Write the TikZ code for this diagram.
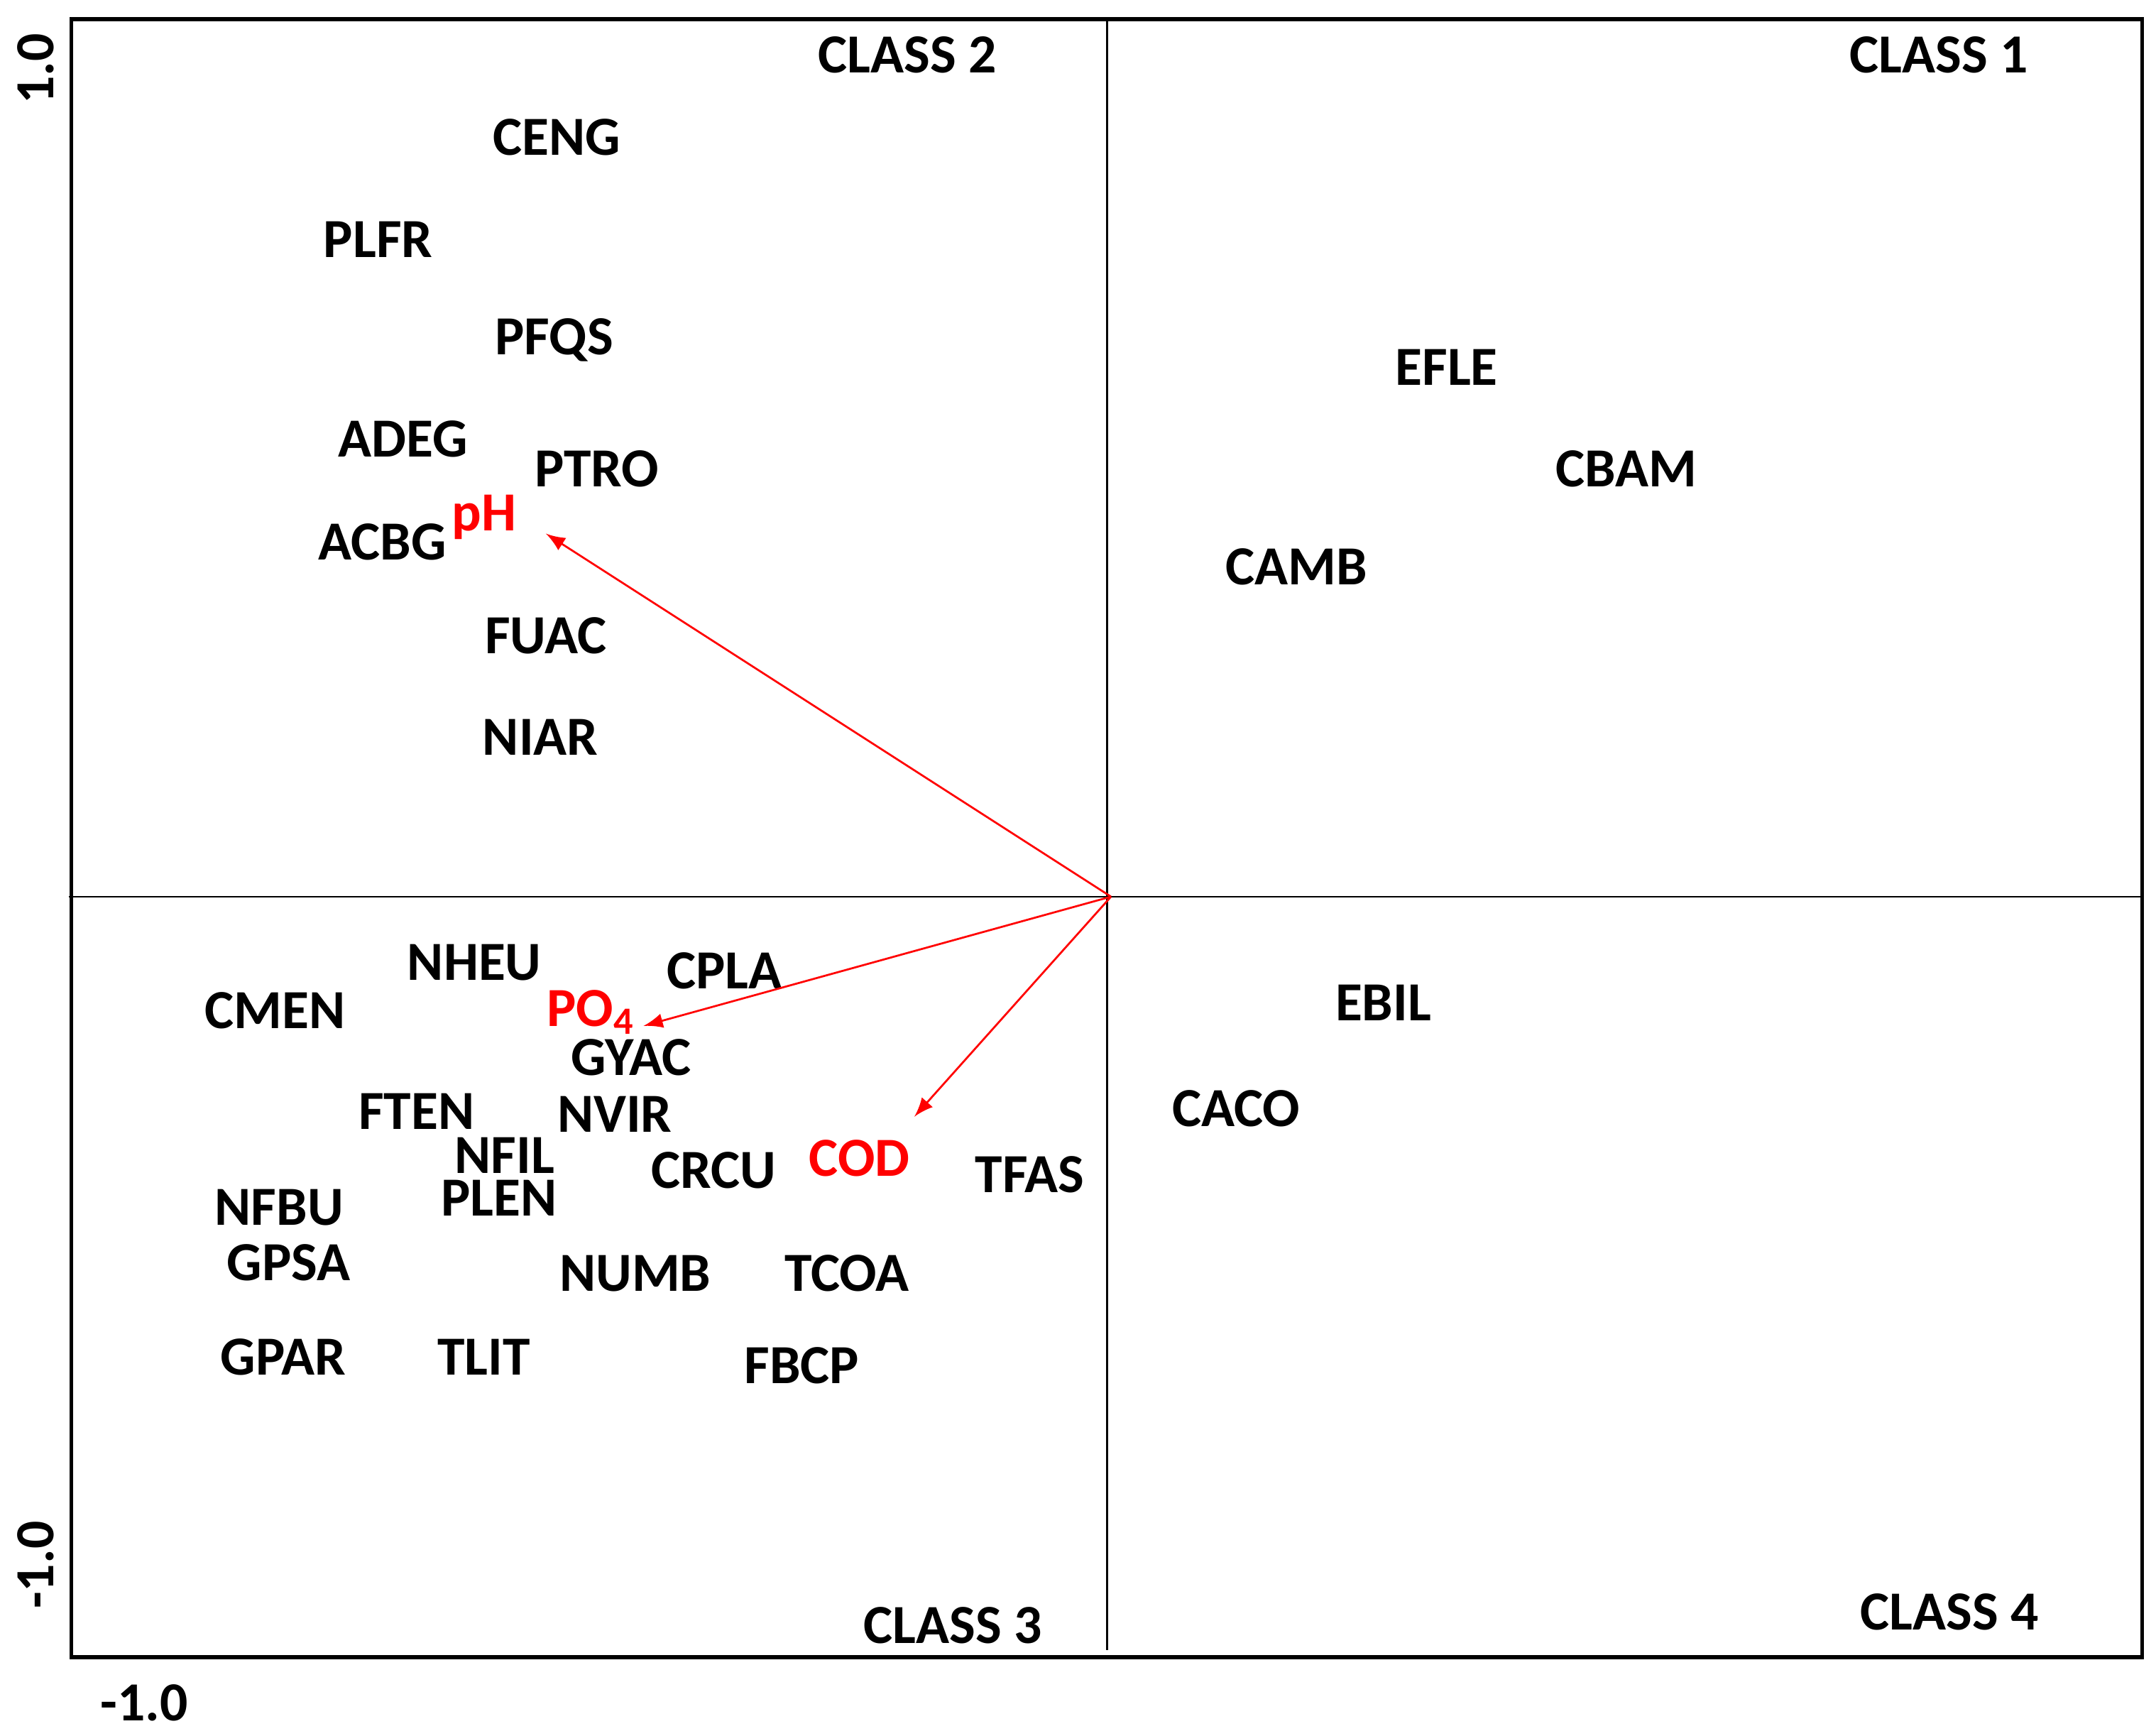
\documentclass[tikz,border=0pt]{standalone}
\usepackage{fontspec}
\setmainfont{Carlito}
\begin{document}
\begin{tikzpicture}[x=0.01cm, y=-0.01cm,
    sp/.style={font=\fontsize{11.4}{13}\selectfont\bfseries},
    ev/.style={font=\fontsize{11.4}{13}\selectfont\bfseries, text=red},
    vec/.style={-latex, red}]
    \useasboundingbox (0,0) rectangle (1568,1262);
    \draw[thick] (52,14) rectangle (1558,1205);
    \draw[] (805,14) -- (805,1200);
    \draw[] (50,652) -- (1558,652);
    \coordinate (o) at (808,652);
    % axis labels
    \node[sp, rotate=90] (ytop) at (26,50) {1.0};
    \node[sp, rotate=90] (ybot) at (26,1138) {-1.0};
    \node[sp] (xleft) at (105,1238) {-1.0};
    % classes
    \node[sp] (c2) at (660,40) {CLASS 2};
    \node[sp] (c1) at (1410,40) {CLASS 1};
    \node[sp] (c3) at (693,1182) {CLASS 3};
    \node[sp] (c4) at (1418,1172) {CLASS 4};
    % species
    \node[sp] (ceng) at (405,100) {CENG};
    \node[sp] (plfr) at (275,174) {PLFR};
    \node[sp] (pfqs) at (403,247) {PFQS};
    \node[sp] (adeg) at (293,319) {ADEG};
    \node[sp] (ptro) at (434,341) {PTRO};
    \node[sp] (acbg) at (278,394) {ACBG};
    \node[sp] (fuac) at (397,462) {FUAC};
    \node[sp] (niar) at (393,536) {NIAR};
    \node[sp] (efle) at (1052,267) {EFLE};
    \node[sp] (cbam) at (1183,341) {CBAM};
    \node[sp] (camb) at (943,412) {CAMB};
    \node[sp] (nheu) at (345,700) {NHEU};
    \node[sp] (cpla) at (527,706) {CPLA};
    \node[sp] (cmen) at (200,735) {CMEN};
    \node[sp] (gyac) at (459,769) {GYAC};
    \node[sp] (ften) at (303,808) {FTEN};
    \node[sp] (nvir) at (447,810) {NVIR};
    \node[sp] (nfil) at (367,840) {NFIL};
    \node[sp] (crcu) at (519,851) {CRCU};
    \node[sp] (tfas) at (749,854) {TFAS};
    \node[sp] (plen) at (363,871) {PLEN};
    \node[sp] (nfbu) at (203,878) {NFBU};
    \node[sp] (gpsa) at (210,918) {GPSA};
    \node[sp] (numb) at (462,926) {NUMB};
    \node[sp] (tcoa) at (616,926) {TCOA};
    \node[sp] (gpar) at (206,987) {GPAR};
    \node[sp] (tlit) at (352,987) {TLIT};
    \node[sp] (fbcp) at (583,993) {FBCP};
    \node[sp] (ebil) at (1006,729) {EBIL};
    \node[sp] (caco) at (899,806) {CACO};
    % environmental variables
    \node[ev] (ph) at (352,376) {pH};
    \node[ev] (po4) at (430,736) {PO\textsubscript{4}};
    \node[ev] (cod) at (625,842) {COD};
    \draw[vec] (o) -- (397,388);
    \draw[vec] (o) -- (468,746);
    \draw[vec] (o) -- (665,812);
\end{tikzpicture}
\end{document}
